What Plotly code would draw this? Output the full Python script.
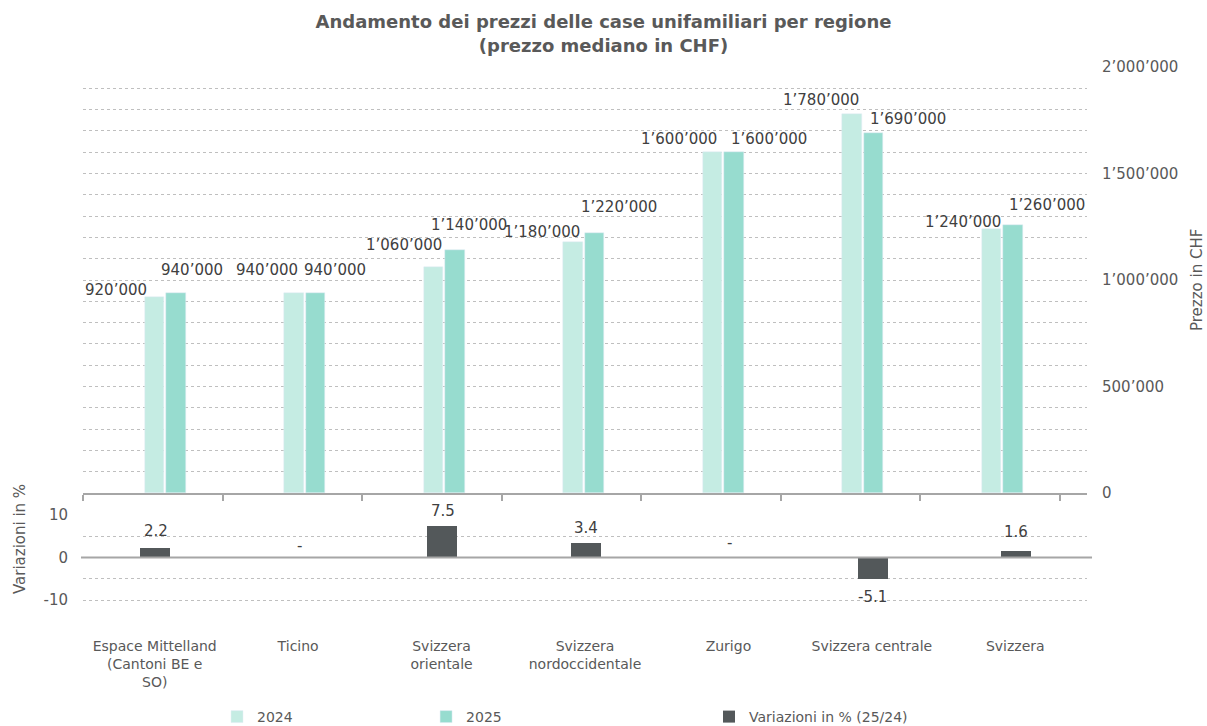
import plotly.graph_objects as go

# ---------------- data ----------------
categories = ["Espace Mittelland (Cantoni BE e SO)", "Ticino", "Svizzera orientale",
              "Svizzera nordoccidentale", "Zurigo", "Svizzera centrale", "Svizzera"]
tick_labels = ["Espace Mittelland<br>(Cantoni BE e<br>SO)", "Ticino", "Svizzera<br>orientale",
               "Svizzera<br>nordoccidentale", "Zurigo", "Svizzera centrale", "Svizzera"]
prezzi_2024 = [920000, 940000, 1060000, 1180000, 1600000, 1780000, 1240000]
prezzi_2025 = [940000, 940000, 1140000, 1220000, 1600000, 1690000, 1260000]
variazioni = [2.2, 0.0, 7.5, 3.4, 0.0, -5.1, 1.6]
price_tick_values = list(range(0, 2000001, 100000))
var_tick_values = [-10, -5, 0, 5, 10]

# ---------------- style ----------------
FONT = "Verdana, DejaVu Sans, sans-serif"
C_2024 = "#c5ece3"
C_2025 = "#97dccf"
C_VAR = "#53585a"
GRID = "#bfbfbf"
AXIS = "#a6a6a6"
TXT = "#595959"
LBL = "#404040"

# label placement tweaks (pixels)
dx_2024 = [-37, -26, -28, -30, -32, -30, -27]
dy_2024 = [7, 23, 22, 10, 13, 14, 7]
dx_2025 = [39, 42, 37, 47, 58, 57, 57]
dy_2025 = [23, 23, 25, 26, 13, 14, 20]
dy_var = [17, 12, 15, 15, 15, -18, 19]


def fmt(v):
    return f"{v:,}".replace(",", "\u2019")


def fmt_var(v):
    return "-" if v == 0 else f"{v:.1f}"


price_tick_text = [fmt(v) if v % 500000 == 0 else "" for v in price_tick_values]
var_tick_text = [str(v) if v % 10 == 0 else "" for v in var_tick_values]

fig = go.Figure()

fig.add_trace(go.Bar(x=categories, y=prezzi_2024, name="2024", marker_color=C_2024,
                     width=0.14, offset=-0.058, xaxis="x", yaxis="y", legend="legend"))
fig.add_trace(go.Bar(x=categories, y=prezzi_2025, name="2025", marker_color=C_2025,
                     width=0.14, offset=0.094, xaxis="x", yaxis="y", legend="legend2"))
fig.add_trace(go.Bar(x=categories, y=variazioni, name="Variazioni in % (25/24)",
                     marker=dict(color=C_VAR, line=dict(width=0)),
                     width=0.21, offset=-0.1, xaxis="x2", yaxis="y2", legend="legend3"))

annotations = []
for i, c in enumerate(categories):
    annotations.append(dict(x=c, y=prezzi_2024[i], xref="x", yref="y", text=fmt(prezzi_2024[i]),
                            showarrow=False, xshift=dx_2024[i], yshift=dy_2024[i],
                            xanchor="center", yanchor="middle",
                            font=dict(family=FONT, size=15, color=LBL)))
    annotations.append(dict(x=c, y=prezzi_2025[i], xref="x", yref="y", text=fmt(prezzi_2025[i]),
                            showarrow=False, xshift=dx_2025[i], yshift=dy_2025[i],
                            xanchor="center", yanchor="middle",
                            font=dict(family=FONT, size=15, color=LBL)))
    annotations.append(dict(x=c, y=variazioni[i], xref="x2", yref="y2", text=fmt_var(variazioni[i]),
                            showarrow=False, xshift=1, yshift=dy_var[i],
                            xanchor="center", yanchor="middle",
                            font=dict(family=FONT, size=15, color=LBL)))

annotations.append(dict(text="Prezzo in CHF", textangle=-90, x=1.1096, y=0.623, xref="paper",
                        yref="paper", showarrow=False, xanchor="center", yanchor="middle",
                        font=dict(family=FONT, size=15, color=TXT)))
annotations.append(dict(text="Variazioni in %", textangle=-90, x=-0.0627, y=0.1646, xref="paper",
                        yref="paper", showarrow=False, xanchor="center", yanchor="middle",
                        font=dict(family=FONT, size=15, color=TXT)))

shapes = [dict(type="line", xref="paper", yref="y2", x0=-0.002, x1=1.005, y0=0, y1=0,
               line=dict(color=AXIS, width=2), layer="above")]

legend_common = dict(orientation="h", xref="container", yref="container", yanchor="middle",
                     y=0.0124, xanchor="left", bgcolor="rgba(0,0,0,0)",
                     font=dict(family=FONT, size=14, color=TXT))

fig.update_layout(
    width=1207, height=726,
    margin=dict(l=83, r=120, t=67, b=94, autoexpand=False),
    paper_bgcolor="white", plot_bgcolor="white",
    barmode="overlay",
    showlegend=True,
    font=dict(family=FONT, size=15, color=TXT),
    title=dict(text="Andamento dei prezzi delle case unifamiliari per regione<br>(prezzo mediano in CHF)",
               x=0.5, xref="container", xanchor="center", y=0.961, yref="container", yanchor="top",
               font=dict(family=FONT, size=18, color=TXT, weight="bold")),
    xaxis=dict(domain=[0, 1], anchor="y", type="category", categoryarray=categories,
               showticklabels=False, showgrid=False, showline=True, linecolor=AXIS, linewidth=2,
               ticks="outside", tickson="boundaries", ticklen=6, tickcolor=AXIS, tickwidth=1.5),
    yaxis=dict(domain=[0.246, 1], anchor="x", side="right", range=[0, 2000000],
               tickmode="array", tickvals=price_tick_values, ticktext=price_tick_text,
               showgrid=True, gridcolor=GRID, griddash="dot", gridwidth=1,
               zeroline=False, showline=False, ticks="", ticklabelstandoff=14,
               tickfont=dict(family=FONT, size=15, color=TXT)),
    xaxis2=dict(domain=[0, 1], anchor="y2", type="category", categoryarray=categories,
                tickmode="array", tickvals=categories, ticktext=tick_labels,
                showgrid=False, showline=False, ticks="", ticklabelstandoff=4,
                tickfont=dict(family=FONT, size=14, color=TXT)),
    yaxis2=dict(domain=[0, 0.2071], anchor="x2", side="left", range=[-17.5, 10],
                tickmode="array", tickvals=var_tick_values, ticktext=var_tick_text,
                showgrid=True, gridcolor=GRID, griddash="dot", gridwidth=1,
                zeroline=False, showline=False, ticks="", ticklabelstandoff=14,
                tickfont=dict(family=FONT, size=15, color=TXT)),
    legend=dict(legend_common, x=0.1798),
    legend2=dict(legend_common, x=0.353),
    legend3=dict(legend_common, x=0.5874),
    annotations=annotations,
    shapes=shapes,
    bargap=0,
)

fig.write_html("out.html", config={"displayModeBar": False},
               post_script="document.body.style.margin='0';document.body.style.overflow='hidden';")
